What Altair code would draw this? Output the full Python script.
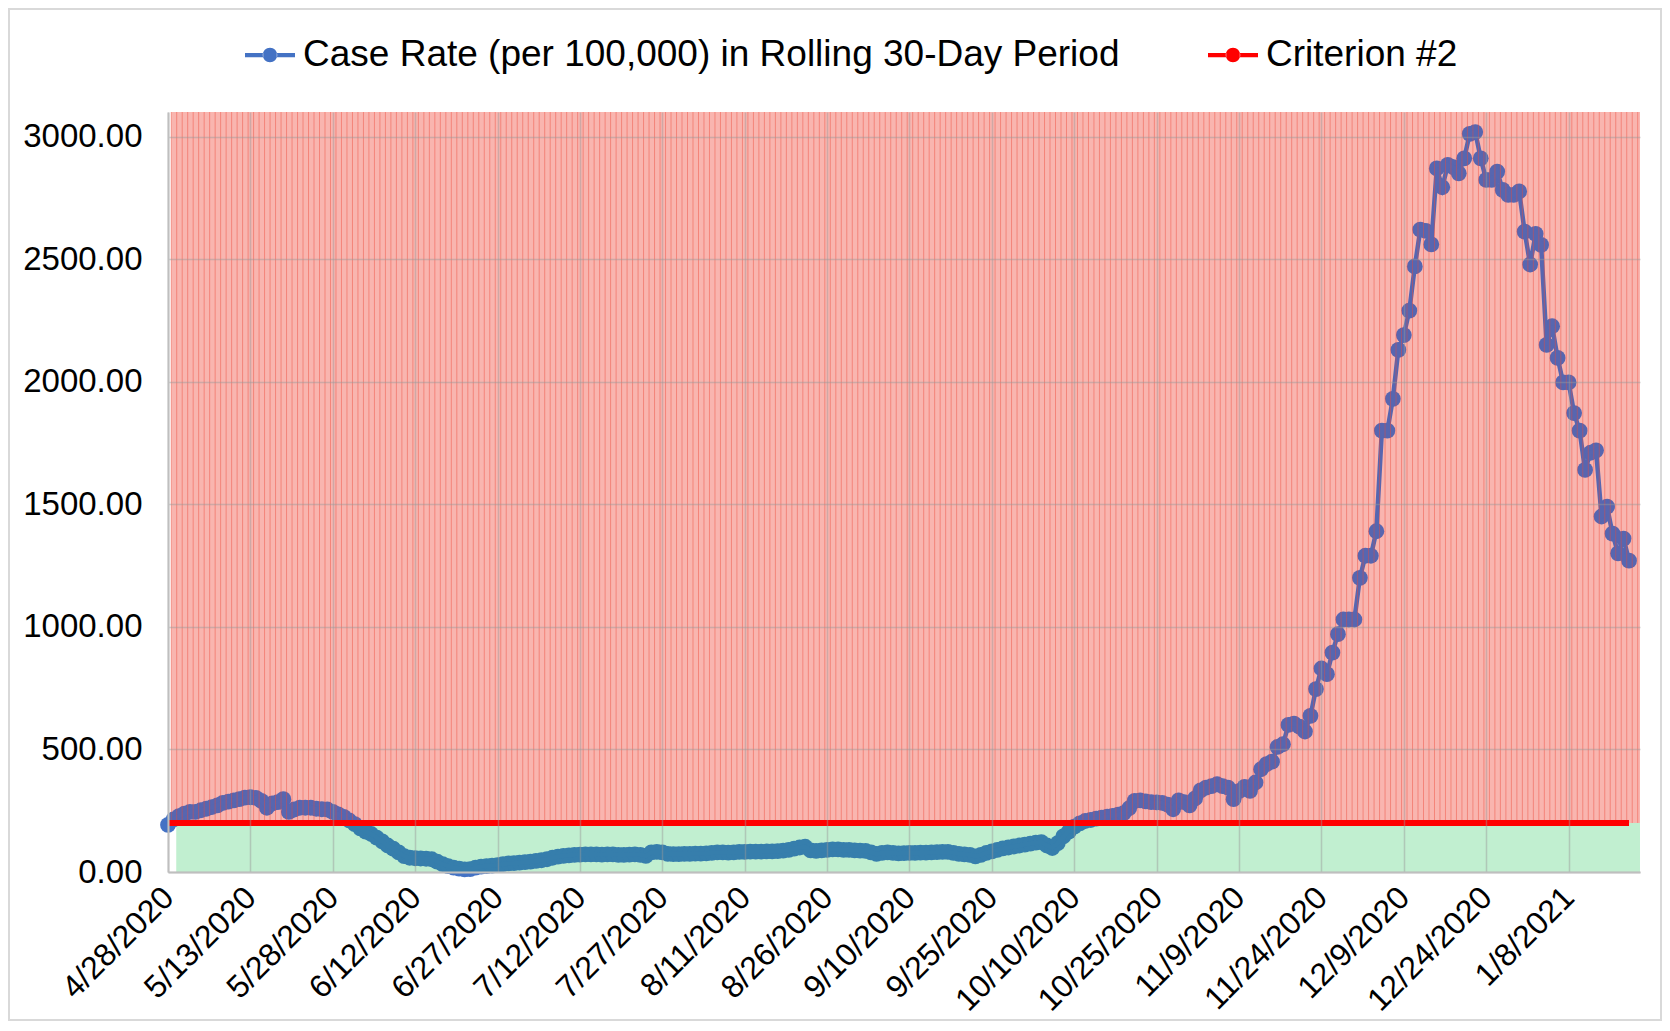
import altair as alt
import pandas as pd

START = "2020-04-28"
CASE_RATE = [
    192, 215, 228, 238, 245, 245, 252, 258, 265, 272,
    282, 287, 292, 297, 303, 305, 302, 290, 262, 280,
    285, 297, 245, 255, 262, 262, 262, 258, 256, 255,
    245, 235, 225, 210, 195, 178, 165, 155, 140, 125,
    108, 95, 80, 65, 58, 56, 55, 54, 52, 42,
    32, 24, 18, 14, 11, 12, 18, 22, 24, 26,
    28, 32, 35, 36, 38, 40, 42, 45, 48, 52,
    58, 63, 66, 68, 70, 71, 72, 72, 72, 71,
    72, 72, 70, 70, 71, 72, 70, 66, 80, 82,
    80, 74, 73, 73, 74, 74, 75, 75, 76, 78,
    80, 80, 79, 80, 82, 82, 83, 83, 83, 84,
    84, 85, 87, 90, 95, 100, 103, 88, 86, 88,
    90, 92, 92, 90, 90, 88, 87, 86, 80, 74,
    78, 80, 78, 76, 77, 78, 78, 79, 79, 80,
    81, 82, 82, 78, 74, 72, 70, 64, 70, 78,
    84, 90, 96, 100, 104, 108, 112, 116, 120, 122,
    108, 98, 118, 145, 165, 185, 198, 208, 212, 218,
    222, 226, 229, 234, 240, 260, 290, 292, 288, 285,
    284, 282, 275, 256, 292, 285, 272, 300, 333, 344,
    350, 358, 350, 344, 297, 330, 347, 331, 365, 419,
    440, 450, 510, 521, 600, 605, 593, 573, 637, 746,
    830, 807, 895, 970, 1030, 1030, 1030, 1200, 1290, 1290,
    1390, 1800, 1800, 1930, 2130, 2190, 2290, 2470, 2620, 2615,
    2560, 2870, 2793, 2884, 2875, 2850, 2911, 3011, 3018, 2911,
    2823, 2823, 2857, 2782, 2762, 2762, 2776, 2612, 2478, 2603,
    2558, 2150, 2226, 2097, 1997, 1997, 1872, 1800, 1640, 1710,
    1720, 1450, 1490, 1380, 1300, 1360, 1270,
]
CRITERION = 200
SERIES = ["Case Rate (per 100,000) in Rolling 30-Day Period", "Criterion #2"]
COLORS = ["#4472C4", "#FF0000"]
Y_TICKS = [0, 500, 1000, 1500, 2000, 2500, 3000]
X_TICKS = [
    (2020, 4, 28), (2020, 5, 13), (2020, 5, 28), (2020, 6, 12), (2020, 6, 27),
    (2020, 7, 12), (2020, 7, 27), (2020, 8, 11), (2020, 8, 26), (2020, 9, 10),
    (2020, 9, 25), (2020, 10, 10), (2020, 10, 25), (2020, 11, 9), (2020, 11, 24),
    (2020, 12, 9), (2020, 12, 24), (2021, 1, 8),
]
X_END = (2021, 1, 21)
Y_MAX = 3100

FONT = "Liberation Sans"

dates = pd.date_range(START, periods=len(CASE_RATE), freq="D")
df = pd.DataFrame({"date": dates, "value": CASE_RATE, "series": SERIES[0]})
crit = pd.DataFrame({"date": [dates[0], dates[-1]], "value": [CRITERION, CRITERION],
                     "series": SERIES[1]})
end_ts = pd.Timestamp(*X_END)
above = pd.DataFrame({"x": [dates[0] + pd.Timedelta(hours=14)], "x2": [end_ts],
                      "y": [CRITERION], "y2": [Y_MAX]})
below = pd.DataFrame({"x": [dates[0] + pd.Timedelta(hours=36)], "x2": [end_ts],
                      "y": [0], "y2": [CRITERION]})
stripes = pd.DataFrame({"date": pd.date_range(dates[0] + pd.Timedelta(hours=14), end_ts, freq="D")})

x_scale = alt.Scale(domain=[alt.DateTime(year=X_TICKS[0][0], month=X_TICKS[0][1], date=X_TICKS[0][2]),
                            alt.DateTime(year=X_END[0], month=X_END[1], date=X_END[2])])
y_scale = alt.Scale(domain=[0, Y_MAX], nice=False)

x_axis = alt.Axis(
    values=[alt.DateTime(year=y, month=m, date=d) for (y, m, d) in X_TICKS],
    format="%-m/%-d/%Y", labelAngle=315, labelAlign="right", labelBaseline="middle",
    labelFont=FONT, labelFontSize=32, labelColor="#000000", labelPadding=20,
    ticks=False, grid=True, gridColor="#9a9a9a", gridOpacity=0.45, gridWidth=1.5,
    domainColor="#bfbfbf", domainWidth=2, title=None, labelOverlap=False, zindex=1,
)
y_axis = alt.Axis(
    values=Y_TICKS, format=".2f", labelFont=FONT, labelFontSize=33, labelColor="#000000",
    labelPadding=26, ticks=False, grid=True, gridColor="#9a9a9a", gridOpacity=0.45,
    gridWidth=1.5, domainColor="#bfbfbf", domainWidth=2, title=None, zindex=1,
)

X = alt.X("date:T", scale=x_scale, axis=x_axis)
Y = alt.Y("value:Q", scale=y_scale, axis=y_axis)

LEGEND_SYMBOL = ("M-1,-0.085L-0.27,-0.085L-0.27,0.085L-1,0.085Z "
                 "M0.27,-0.085L1,-0.085L1,0.085L0.27,0.085Z "
                 "M-0.29,0A0.29,0.29,0,1,0,0.29,0A0.29,0.29,0,1,0,-0.29,0Z")
color = alt.Color(
    "series:N", scale=alt.Scale(domain=SERIES, range=COLORS),
    legend=alt.Legend(
        orient="none", legendX=77, legendY=-82, direction="horizontal", title=None,
        labelFont=FONT, labelFontSize=37, labelColor="#000000", labelLimit=2000,
        symbolType=LEGEND_SYMBOL, symbolSize=2500, symbolStrokeWidth=0, symbolOpacity=1,
        labelOffset=8, columnPadding=88, padding=0,
    ),
)

border = alt.Chart(pd.DataFrame({"k": [0]})).mark_rect(
    fill="#ffffff", fillOpacity=0, stroke="#d9d9d9", strokeWidth=2, clip=False
).encode(x=alt.value(-159), x2=alt.value(1493), y=alt.value(-103), y2=alt.value(908))

rect_enc = dict(x=alt.X("x:T", scale=x_scale, axis=x_axis), x2="x2:T",
                y=alt.Y("y:Q", scale=y_scale, axis=y_axis), y2="y2:Q")

under_red = alt.Chart(above).mark_rect(color="#F9CAC3").encode(**rect_enc)
under_green = alt.Chart(below).mark_rect(color="#F2FFF0").encode(**rect_enc)

points = alt.Chart(df).mark_point(filled=True, size=250, opacity=1, strokeWidth=0).encode(
    x=X, y=Y, color=color)
line = alt.Chart(df).mark_line(strokeWidth=4.5).encode(x=X, y=Y, color=color)

over_red = alt.Chart(above).mark_rect(color="#FF0000", opacity=0.10).encode(**rect_enc)
over_green = alt.Chart(below).mark_rect(color="#00B050", opacity=0.2).encode(**rect_enc)
red_stripes = alt.Chart(stripes).mark_rule(color="#EE4A3A", opacity=0.45, strokeWidth=1).encode(
    x=alt.X("date:T", scale=x_scale, axis=x_axis), y=alt.Y(datum=CRITERION, scale=y_scale, axis=y_axis),
    y2=alt.Y2(datum=Y_MAX))

crit_line = alt.Chart(crit).mark_line(strokeWidth=6).encode(x=X, y=Y, color=color)

chart = alt.layer(
    border, under_red, under_green, points, line, over_red, over_green, red_stripes, crit_line
).properties(
    width=1472, height=760,
    autosize=alt.AutoSizeParams(type="none"),
    padding={"left": 160, "top": 104, "right": 22, "bottom": 149},
    background="#ffffff",
).configure_view(stroke=None)

chart.save("out.html", embed_options={"renderer": "svg", "actions": False})
